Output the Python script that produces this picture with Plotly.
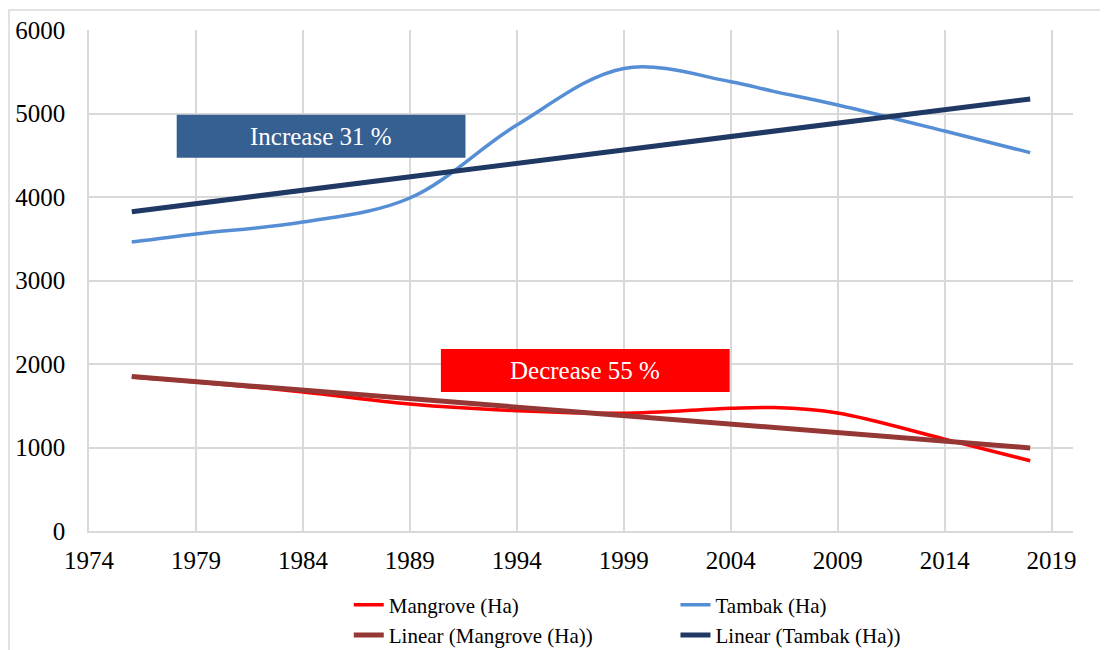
import plotly.graph_objects as go

# ---- data ----
years = [1976, 1979, 1984, 1989, 1994, 1999, 2004, 2006, 2009, 2014, 2018]
mangrove_ha = [1845, 1785, 1665, 1521, 1440, 1410, 1470, 1478, 1413, 1100, 842]
tambak_ha = [3460, 3557, 3700, 3988, 4862, 5540, 5381, 5265, 5102, 4790, 4531]

trend_years = [1976, 2018]
mangrove_trend = [1850, 995]
tambak_trend = [3824, 5174]

x_ticks = [1974, 1979, 1984, 1989, 1994, 1999, 2004, 2009, 2014, 2019]
y_ticks = [0, 1000, 2000, 3000, 4000, 5000, 6000]

SERIF = "Liberation Serif, Times New Roman, serif"

fig = go.Figure()

fig.add_trace(go.Scatter(
    x=years, y=mangrove_ha, name="Mangrove (Ha)", mode="lines",
    line=dict(color="#FF0000", width=3.5, shape="spline", smoothing=1.0),
    legend="legend", legendgroup="a", legendrank=1))
fig.add_trace(go.Scatter(
    x=years, y=tambak_ha, name="Tambak (Ha)", mode="lines",
    line=dict(color="#558ED5", width=3.5, shape="spline", smoothing=1.0),
    legend="legend2", legendgroup="c", legendrank=1))
fig.add_trace(go.Scatter(
    x=trend_years, y=mangrove_trend, name="Linear (Mangrove (Ha))", mode="lines",
    line=dict(color="#953735", width=5),
    legend="legend", legendgroup="b", legendrank=2))
fig.add_trace(go.Scatter(
    x=trend_years, y=tambak_trend, name="Linear (Tambak (Ha))", mode="lines",
    line=dict(color="#1F3864", width=5),
    legend="legend2", legendgroup="d", legendrank=2))

grid = "#D9D9D9"

fig.update_layout(
    width=1100, height=642,
    margin=dict(l=81, r=35, t=22, b=119, autoexpand=False),
    paper_bgcolor="white", plot_bgcolor="white",
    font=dict(family=SERIF, color="black"),
    xaxis=dict(
        range=[1974, 2020], tickmode="array", tickvals=x_ticks,
        ticktext=[str(v) for v in x_ticks],
        showgrid=True, gridcolor=grid, gridwidth=1.5,
        showline=True, linecolor=grid, linewidth=1.5,
        zeroline=False, ticks="", tickfont=dict(family=SERIF, size=25, color="black"),
        ticklabelstandoff=6, automargin=False, fixedrange=True),
    yaxis=dict(
        range=[0, 6000], tickmode="array", tickvals=y_ticks,
        ticktext=[str(v) for v in y_ticks],
        showgrid=True, gridcolor=grid, gridwidth=1.5,
        showline=True, linecolor=grid, linewidth=1.5,
        zeroline=False, ticks="", tickfont=dict(family=SERIF, size=25, color="black"),
        ticklabelstandoff=17, automargin=False, fixedrange=True),
    legend=dict(
        orientation="v", x=0.264, y=-0.107, xanchor="left", yanchor="top",
        font=dict(family=SERIF, size=21, color="black"),
        bgcolor="rgba(0,0,0,0)", tracegroupgap=0, traceorder="grouped"),
    legend2=dict(
        orientation="v", x=0.596, y=-0.107, xanchor="left", yanchor="top",
        font=dict(family=SERIF, size=21, color="black"),
        bgcolor="rgba(0,0,0,0)", tracegroupgap=0, traceorder="grouped"),
    showlegend=True,
)

# outer chart border (light gray)
fig.add_shape(type="rect", xref="paper", yref="paper",
              x0=(9 - 89) / 984, x1=(1130 - 89) / 984,
              y0=(531 - 670) / 501, y1=(531 - 10) / 501,
              line=dict(color=grid, width=1.5), fillcolor="rgba(0,0,0,0)", layer="below")

# annotation boxes
fig.add_shape(type="rect", xref="x", yref="y",
              x0=1978.1, x1=1991.6, y0=4470, y1=4985,
              line=dict(width=0), fillcolor="#376092", layer="above")
fig.add_annotation(x=(1978.1 + 1991.6) / 2, y=(4470 + 4985) / 2, xref="x", yref="y",
                   text="Increase 31 %", showarrow=False,
                   font=dict(family=SERIF, size=25, color="white"))

fig.add_shape(type="rect", xref="x", yref="y",
              x0=1990.45, x1=2003.95, y0=1665, y1=2180,
              line=dict(width=0), fillcolor="#FF0000", layer="above")
fig.add_annotation(x=(1990.45 + 2003.95) / 2, y=(1665 + 2180) / 2, xref="x", yref="y",
                   text="Decrease 55 %", showarrow=False,
                   font=dict(family=SERIF, size=25, color="white"))

fig.write_html("out.html")
